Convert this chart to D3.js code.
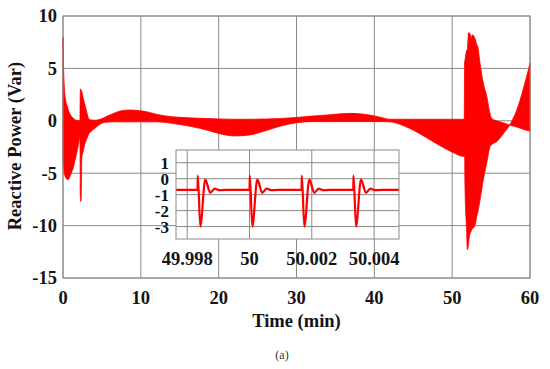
<!DOCTYPE html>
<html>
<head>
<meta charset="utf-8">
<script src="https://cdn.jsdelivr.net/npm/d3@7"></script>
<style>
body{margin:0;background:#fff;}
text{font-family:"Liberation Serif","Times New Roman",serif;}
</style>
</head>
<body>
<svg id="chart" width="550" height="369"></svg>
<script>
// envelope of the oscillating reactive power (min, Var)
var timeMin = [0, 0.08, 0.17, 0.34, 0.6, 0.69, 0.9, 1.11, 1.33, 1.54, 1.76, 2.0, 2.18, 2.22, 2.27, 2.35, 2.42, 2.6, 2.83, 3.04, 3.25, 3.5, 4.1, 4.97, 5.8, 6.7, 7.54, 8.6, 10, 11, 12, 13, 15, 17.6, 20, 22, 24, 26, 28, 30, 32, 34.3, 36.9, 38, 39.4, 41, 42, 44, 46, 47.2, 48.5, 49.9, 51.55, 51.6, 51.65, 51.85, 51.95, 52.1, 52.2, 52.4, 52.5, 52.6, 52.85, 53.0, 53.15, 53.3, 53.58, 54.0, 54.43, 54.86, 55.1, 55.7, 56.6, 57.4, 58.3, 59.1, 60];
var envHigh = [8.0, 4.9, 3.25, 2.0, 1.3, 1.03, 0.65, 0.4, 0.25, 0.1, 0.05, 0.02, 0.0, 3.05, 3.0, 2.9, 2.8, 2.14, 1.5, 0.87, 0.3, 0.1, 0.05, 0.2, 0.49, 0.77, 0.97, 1.03, 0.95, 0.82, 0.62, 0.48, 0.33, 0.24, 0.18, 0.15, 0.15, 0.17, 0.22, 0.32, 0.45, 0.58, 0.71, 0.68, 0.55, 0.3, 0.15, 0.15, 0.15, 0.15, 0.15, 0.15, 0.15, 5.6, 5.8, 6.7, 6.8, 8.4, 8.4, 8.1, 7.9, 8.2, 8.0, 7.7, 7.3, 7.05, 5.5, 3.6, 2.4, 0.7, 0.2, 0.0, -0.2, -0.4, -0.6, -0.8, -1.0];
var envLow = [-3.7, -4.5, -5.0, -5.4, -5.6, -5.6, -5.3, -4.9, -4.5, -3.8, -3.1, -2.2, -1.6, -7.0, -7.7, -7.2, -3.6, -2.9, -2.15, -1.75, -1.35, -1.1, -0.72, -0.24, -0.12, -0.1, -0.1, -0.1, -0.1, -0.1, -0.1, -0.15, -0.35, -0.72, -1.2, -1.45, -1.35, -0.95, -0.5, -0.18, -0.08, -0.08, -0.08, -0.08, -0.08, -0.08, -0.1, -0.55, -1.3, -1.83, -2.4, -2.95, -3.4, -3.4, -6.3, -10.4, -12.3, -11.8, -11.06, -10.6, -10.4, -10.3, -10.1, -9.8, -9.15, -8.7, -7.56, -5.65, -4.06, -2.47, -2.25, -2.0, -1.2, -0.4, 1.03, 2.94, 5.5];

var xTicks = [0, 10, 20, 30, 40, 50, 60];
var yTicks = [10, 5, 0, -5, -10, -15];

// zoomed detail around t = 50 min
var insetXTicks = [49.998, 50, 50.002, 50.004];
var insetYTicks = [1, 0, -1, -2, -3];
var pulseStart = [49.99833, 50.0, 50.00167, 50.00333];
var pulseOffset = [0, 0.00001, 0.00009, 0.00025, 0.00041, 0.00055, 0.00071, 0.0009];
var pulseValue = [-0.7, 0.2, -3.0, -0.05, -0.88, -0.62, -0.72, -0.7];
var insetBase = -0.7;

var svg = d3.select("#chart");
var gridColor = "#8a8a8a";
var ink = "#141414";

var x = d3.scaleLinear().domain([0, 60]).range([63, 530]);
var y = d3.scaleLinear().domain([-15, 10]).range([278, 16]);

// grid
svg.append("g").selectAll("line").data(xTicks).enter().append("line")
  .attr("x1", d => x(d)).attr("x2", d => x(d))
  .attr("y1", y(10)).attr("y2", y(-15))
  .attr("stroke", gridColor).attr("stroke-width", 1);
svg.append("g").selectAll("line").data(yTicks).enter().append("line")
  .attr("x1", x(0)).attr("x2", x(60))
  .attr("y1", d => y(d)).attr("y2", d => y(d))
  .attr("stroke", gridColor).attr("stroke-width", 1);

// band
var band = timeMin.map((t, i) => ({t: t, hi: envHigh[i], lo: envLow[i]}));
var area = d3.area()
  .x(d => x(d.t))
  .y0(d => y(d.lo))
  .y1(d => y(d.hi))
  .curve(d3.curveMonotoneX);
svg.append("path").datum(band)
  .attr("d", area)
  .attr("fill", "#ff0000")
  .attr("stroke", "#ff0000")
  .attr("stroke-width", 0.8);

svg.append("rect")
  .attr("x", x(0)).attr("y", y(10))
  .attr("width", x(60) - x(0)).attr("height", y(-15) - y(10))
  .attr("fill", "none").attr("stroke", gridColor);

// tick labels
svg.append("g").selectAll("text").data(xTicks).enter().append("text")
  .attr("x", d => x(d)).attr("y", 304)
  .attr("text-anchor", "middle")
  .attr("font-size", 18.5).attr("font-weight", "bold").attr("fill", ink)
  .text(d => d);
svg.append("g").selectAll("text").data(yTicks).enter().append("text")
  .attr("x", 57).attr("y", d => y(d))
  .attr("dy", "0.35em")
  .attr("text-anchor", "end")
  .attr("font-size", 18.5).attr("font-weight", "bold").attr("fill", ink)
  .text(d => d);

svg.append("text")
  .attr("x", x(30)).attr("y", 327)
  .attr("text-anchor", "middle")
  .attr("font-size", 18.5).attr("font-weight", "bold").attr("fill", ink)
  .text("Time (min)");

svg.append("text")
  .attr("transform", "translate(21,146) rotate(-90)")
  .attr("text-anchor", "middle")
  .attr("font-size", 18.5).attr("font-weight", "bold").attr("fill", ink)
  .text("Reactive Power (Var)");

svg.append("text")
  .attr("x", 282).attr("y", 359)
  .attr("text-anchor", "middle")
  .attr("font-size", 12).attr("fill", "#333")
  .text("(a)");

// inset
var ix = d3.scaleLinear().domain([49.99764, 50.0048]).range([176, 399]);
var iy = d3.scaleLinear().domain([-3.78, 1.8]).range([239, 150]);
var inset = svg.append("g");

inset.append("rect")
  .attr("x", 176).attr("y", 150).attr("width", 223).attr("height", 89)
  .attr("fill", "#fff");
inset.append("g").selectAll("line").data(insetXTicks).enter().append("line")
  .attr("x1", d => ix(d)).attr("x2", d => ix(d))
  .attr("y1", 150).attr("y2", 239)
  .attr("stroke", gridColor);
inset.append("g").selectAll("line").data(insetYTicks).enter().append("line")
  .attr("x1", 176).attr("x2", 399)
  .attr("y1", d => iy(d)).attr("y2", d => iy(d))
  .attr("stroke", gridColor);

var insetPts = [{t: ix.domain()[0], v: insetBase}];
pulseStart.forEach(s => {
  pulseOffset.forEach((o, j) => insetPts.push({t: s + o, v: pulseValue[j]}));
});
insetPts.push({t: ix.domain()[1], v: insetBase});

inset.append("path").datum(insetPts)
  .attr("d", d3.line().x(d => ix(d.t)).y(d => iy(d.v)).curve(d3.curveMonotoneX))
  .attr("fill", "none").attr("stroke", "#ff0000").attr("stroke-width", 2.2);

inset.append("rect")
  .attr("x", 176).attr("y", 150).attr("width", 223).attr("height", 89)
  .attr("fill", "none").attr("stroke", gridColor);

inset.append("g").selectAll("text").data(insetXTicks).enter().append("text")
  .attr("x", d => ix(d)).attr("y", 265)
  .attr("text-anchor", "middle")
  .attr("font-size", 18.5).attr("font-weight", "bold").attr("fill", ink)
  .text(d => d);
inset.append("g").selectAll("text").data(insetYTicks).enter().append("text")
  .attr("x", 169).attr("y", d => iy(d))
  .attr("dy", "0.35em")
  .attr("text-anchor", "end")
  .attr("font-size", 17).attr("font-weight", "bold").attr("fill", ink)
  .text(d => d);
</script>
</body>
</html>
